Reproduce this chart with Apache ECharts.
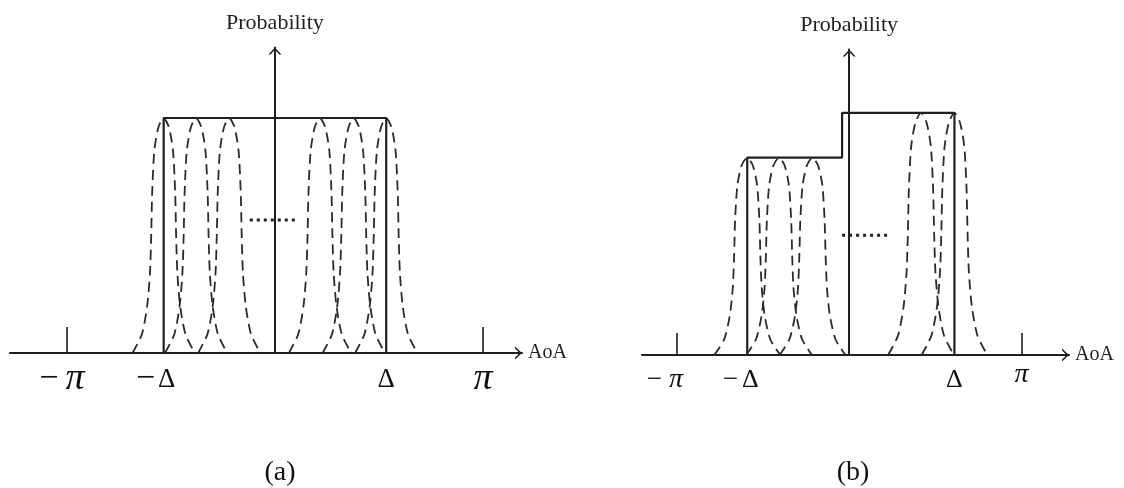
<!DOCTYPE html>
<html>
<head>
<meta charset="utf-8">
<script src="https://cdn.jsdelivr.net/npm/echarts@6/dist/echarts.min.js"></script>
<style>
  html, body { margin: 0; padding: 0; background: #fff; }
  #chart { width: 1124px; height: 488px; }
</style>
</head>
<body>
<div id="chart"></div>
<script>
const PI = Math.PI;

// Beam shape: offsets (fraction of half-width) and relative heights
const beamProfileX = [-1, -0.7, -0.53, -0.44, -0.4, -0.37, -0.3, -0.17, 0, 0.17, 0.3, 0.37, 0.4, 0.44, 0.53, 0.7, 1];
const beamProfileY = [0, 0.08, 0.2, 0.34, 0.5, 0.68, 0.86, 0.96, 1, 0.96, 0.86, 0.68, 0.5, 0.34, 0.2, 0.08, 0];

// Panel (a): uniform AoA spread over [-Δ, Δ]
const edgesA = [-1.68, 1.68];
const levelA = 1.0;
const beamCentersA = [-1.68, -1.19, -0.69, 0.68, 1.19, 1.68];
const beamHalfWidthA = 0.47;
const dotsA = [[-0.38, 0.566], [0.35, 0.566]];
const labelValuesA = [-PI, -1.68, 1.68, PI];
const labelTextsA = ['−π', '−Δ', 'Δ', 'π'];
const tickValuesA = [-PI, PI];
const rangeA = [-4.0, 3.73];

// Panel (b): two-level AoA spread
const edgesB = [-1.86, 1.92];
const stepB = -0.13;
const lowLevelB = 0.84;
const highLevelB = 1.03;
const beamCentersLowB = [-1.86, -1.28, -0.67];
const beamCentersHighB = [1.31, 1.92];
const beamHalfWidthB = 0.6;
const dotsB = [[-0.13, 0.51], [0.75, 0.51]];
const labelValuesB = [-PI, -1.86, 1.92, PI];
const labelTextsB = ['−π', '−Δ', 'Δ', 'π'];
const tickValuesB = [-PI, PI];
const rangeB = [-3.78, 4.01];

const yMax = 1.3;

const INK = '#1f1f1f';
const SERIF = '"Liberation Serif", "Times New Roman", serif';
// open chevron used as the arrow head of both axes
const ARROW = 'path://M0,7 L6.5,0 L13,7 L10.9,7 L6.5,2.3 L2.1,7 Z';

function beamSeries(center, halfWidth, level, axisIndex) {
  return {
    type: 'line',
    xAxisIndex: axisIndex,
    yAxisIndex: axisIndex,
    smooth: 0.25,
    symbol: 'none',
    silent: true,
    lineStyle: { color: '#2a2a2a', width: 1.8, type: [10, 6] },
    data: beamProfileX.map((o, i) => [center + o * halfWidth, level * beamProfileY[i]])
  };
}

function labelFormatter(values, texts) {
  return function (v) {
    let idx = 0, best = Infinity;
    values.forEach((x, i) => { const d = Math.abs(x - v); if (d < best) { best = d; idx = i; } });
    const t = texts[idx];
    const neg = t.charAt(0) === '−';
    const glyph = neg ? t.slice(1) : t;
    const g = glyph === 'π' ? 'pi' : 'del';
    return neg ? '{m' + g + '|−}{' + g + '|' + glyph + '}{s' + g + '| }' : '{' + g + '|' + glyph + '}';
  };
}

function richStyles(o) {
  return {
    mpi: { fontFamily: SERIF, fontSize: o.minus, lineHeight: o.del, color: '#111', padding: [0, o.gapPi, 0, 0] },
    mdel: { fontFamily: SERIF, fontSize: o.minus, lineHeight: o.del, color: '#111', padding: [0, o.gapDel, 0, 0] },
    pi: { fontFamily: SERIF, fontSize: o.pi, lineHeight: o.piLine, fontStyle: 'italic', color: '#111' },
    del: { fontFamily: SERIF, fontSize: o.del, lineHeight: o.del, color: '#111' },
    spi: { width: o.spacePi, fontSize: 10 },
    sdel: { width: o.spaceDel, fontSize: 10 }
  };
}

function xAxisFor(gridIndex, range, labelValues, labelTexts, tickValues, tickLen, rich, margin) {
  return {
    type: 'value',
    gridIndex: gridIndex,
    min: range[0],
    max: range[1],
    splitLine: { show: false },
    axisLine: {
      show: true,
      symbol: ['none', ARROW],
      symbolSize: [13, 7],
      symbolOffset: [0, -3.5],
      lineStyle: { color: INK, width: 2 }
    },
    axisTick: {
      show: true,
      inside: true,
      length: tickLen,
      customValues: tickValues,
      lineStyle: { color: INK, width: 1.6 }
    },
    axisLabel: {
      show: true,
      margin: margin,
      customValues: labelValues,
      formatter: labelFormatter(labelValues, labelTexts),
      rich: rich
    },
    name: 'AoA',
    nameLocation: 'end',
    nameGap: 6,
    nameTextStyle: { fontFamily: SERIF, fontSize: 20, color: '#222' }
  };
}

function yAxisFor(gridIndex) {
  return {
    type: 'value',
    gridIndex: gridIndex,
    min: 0,
    max: yMax,
    splitLine: { show: false },
    axisTick: { show: false },
    axisLabel: { show: false },
    axisLine: {
      show: true,
      onZero: true,
      symbol: ['none', ARROW],
      symbolSize: [13, 7],
      symbolOffset: [0, -3.5],
      lineStyle: { color: INK, width: 2 }
    },
    name: 'Probability',
    nameLocation: 'end',
    nameGap: 13,
    nameTextStyle: { fontFamily: SERIF, fontSize: 22, color: '#222' }
  };
}

const solidStyle = { color: INK, width: 2.2 };
const dotStyle = { color: '#222', width: 3, type: [3, 4] };

const series = [];

// (a) outline
series.push({
  type: 'line', xAxisIndex: 0, yAxisIndex: 0, symbol: 'none', silent: true,
  lineStyle: solidStyle,
  data: [[edgesA[0], 0], [edgesA[0], levelA], [edgesA[1], levelA], [edgesA[1], 0]]
});
beamCentersA.forEach(c => series.push(beamSeries(c, beamHalfWidthA, levelA, 0)));
series.push({
  type: 'line', xAxisIndex: 0, yAxisIndex: 0, symbol: 'none', silent: true,
  lineStyle: dotStyle, data: dotsA
});

// (b) outline
series.push({
  type: 'line', xAxisIndex: 1, yAxisIndex: 1, symbol: 'none', silent: true,
  lineStyle: solidStyle,
  data: [[edgesB[0], 0], [edgesB[0], lowLevelB], [stepB, lowLevelB], [stepB, highLevelB], [edgesB[1], highLevelB], [edgesB[1], 0]]
});
beamCentersLowB.forEach(c => series.push(beamSeries(c, beamHalfWidthB, lowLevelB, 1)));
beamCentersHighB.forEach(c => series.push(beamSeries(c, beamHalfWidthB, highLevelB, 1)));
series.push({
  type: 'line', xAxisIndex: 1, yAxisIndex: 1, symbol: 'none', silent: true,
  lineStyle: dotStyle, data: dotsB
});

const chart = echarts.init(document.getElementById('chart'), null, { renderer: 'canvas' });
chart.setOption({
  backgroundColor: '#ffffff',
  animation: false,
  grid: [
    { left: 10, top: 47.5, width: 512, height: 305.5, containLabel: false, outerBoundsMode: 'none' },
    { left: 642, top: 49.5, width: 427, height: 305.5, containLabel: false, outerBoundsMode: 'none' }
  ],
  xAxis: [
    xAxisFor(0, rangeA, labelValuesA, labelTextsA, tickValuesA, 26,
      richStyles({ minus: 34, gapPi: 7, gapDel: 3, pi: 38, piLine: 26, del: 27, spacePi: 10, spaceDel: 16 }), 13),
    xAxisFor(1, rangeB, labelValuesB, labelTextsB, tickValuesB, 22,
      richStyles({ minus: 27, gapPi: 7, gapDel: 4, pi: 28, piLine: 16, del: 26, spacePi: 24, spaceDel: 13 }), 12)
  ],
  yAxis: [yAxisFor(0), yAxisFor(1)],
  series: series,
  graphic: [
    { type: 'text', x: 280, y: 473, style: { text: '(a)', font: '28px "Liberation Serif", serif', fill: '#111', align: 'center', verticalAlign: 'middle' } },
    { type: 'text', x: 853, y: 473, style: { text: '(b)', font: '28px "Liberation Serif", serif', fill: '#111', align: 'center', verticalAlign: 'middle' } }
  ]
});
</script>
</body>
</html>
